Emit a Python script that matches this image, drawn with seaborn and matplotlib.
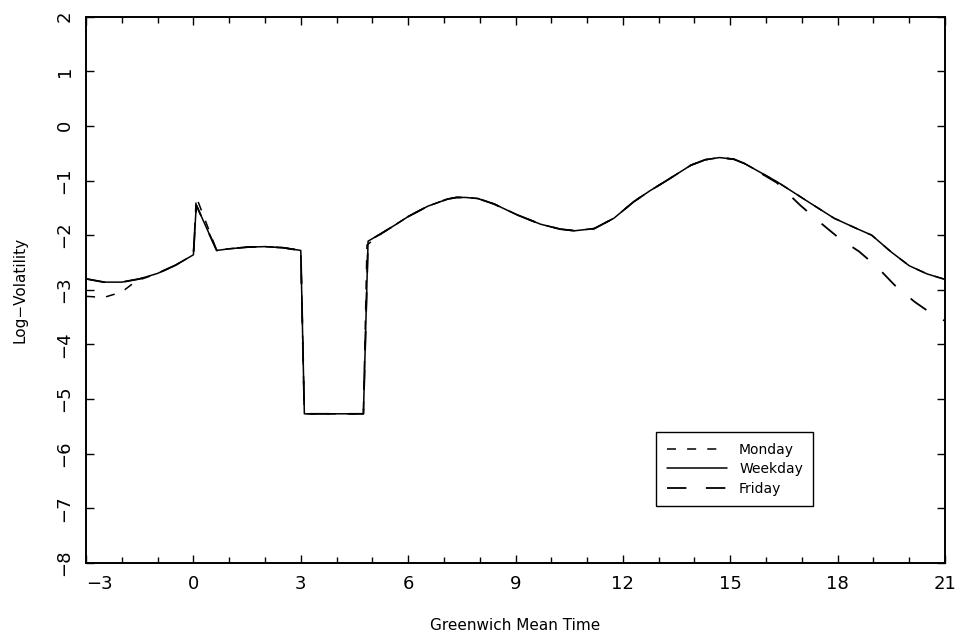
import numpy as np
import pandas as pd
import matplotlib
matplotlib.use("Agg")
import matplotlib.pyplot as plt
import seaborn as sns
from matplotlib.ticker import MultipleLocator

# ---- data ----
weekday_x = [-3.0, -2.5, -2.0, -1.5, -1.0, -0.5, 0.0, 0.08, 0.65, 1.0, 1.5, 2.0, 2.5, 3.0,
             3.1, 4.0, 4.75, 4.88, 5.25, 5.62, 6.0, 6.55, 7.1, 7.35, 7.6, 7.95, 8.4, 9.05, 9.7,
             10.25, 10.65, 11.2, 11.75, 12.3, 12.75, 13.2, 13.9, 14.3, 14.7, 15.1, 15.4, 16.3,
             17.25, 17.9, 18.5, 18.95, 19.5, 20.0, 20.5, 21.0]
weekday_y = [-2.80, -2.86, -2.86, -2.80, -2.70, -2.55, -2.36, -1.45, -2.28, -2.25, -2.22, -2.21, -2.23, -2.28,
             -5.27, -5.27, -5.27, -2.11, -1.97, -1.82, -1.66, -1.47, -1.34, -1.31, -1.31, -1.33, -1.43, -1.63, -1.80,
             -1.89, -1.92, -1.88, -1.69, -1.39, -1.19, -1.01, -0.72, -0.62, -0.58, -0.61, -0.69, -1.02,
             -1.42, -1.69, -1.87, -2.00, -2.31, -2.56, -2.71, -2.81]

monday_x = [-3.0, -2.5, -2.0, -1.6, -1.0, -0.5, 0.0, 0.08, 0.65, 1.0, 1.5, 2.0, 2.5, 3.0,
            3.1, 4.0, 4.75, 4.85, 5.25, 5.62, 6.0, 6.55, 7.1, 7.35, 7.6, 7.95, 8.4, 9.05, 9.7,
            10.25, 10.65, 11.2, 11.75, 12.3, 12.75, 13.2, 13.9, 14.3, 14.7, 15.1, 15.4, 16.3,
            17.25, 17.9, 18.5, 18.95, 19.5, 20.0, 20.5, 21.0]
monday_y = [-3.12, -3.14, -3.04, -2.84, -2.70, -2.55, -2.36, -1.30, -2.28, -2.25, -2.22, -2.21, -2.23, -2.28,
            -5.27, -5.27, -5.27, -2.18, -1.97, -1.82, -1.66, -1.47, -1.34, -1.31, -1.31, -1.33, -1.43, -1.63, -1.80,
            -1.89, -1.92, -1.88, -1.69, -1.39, -1.19, -1.01, -0.72, -0.62, -0.58, -0.61, -0.69, -1.02,
            -1.42, -1.69, -1.87, -2.00, -2.31, -2.56, -2.71, -2.81]

friday_x = [-3.0, -2.5, -2.0, -1.5, -1.0, -0.5, 0.0, 0.08, 0.65, 1.0, 1.5, 2.0, 2.5, 3.0,
            3.1, 4.0, 4.75, 4.88, 5.25, 5.62, 6.0, 6.55, 7.1, 7.35, 7.6, 7.95, 8.4, 9.05, 9.7,
            10.25, 10.65, 11.2, 11.75, 12.3, 12.75, 13.2, 13.9, 14.3, 14.7, 15.1, 15.4, 16.3,
            16.95, 17.55, 18.05, 18.6, 19.1, 19.6, 20.15, 20.7, 21.0]
friday_y = [-2.80, -2.86, -2.86, -2.80, -2.70, -2.55, -2.36, -1.45, -2.28, -2.25, -2.22, -2.21, -2.23, -2.28,
            -5.27, -5.27, -5.27, -2.11, -1.97, -1.82, -1.66, -1.47, -1.34, -1.31, -1.31, -1.33, -1.43, -1.63, -1.80,
            -1.89, -1.92, -1.88, -1.69, -1.39, -1.19, -1.01, -0.72, -0.62, -0.58, -0.61, -0.69, -1.04,
            -1.45, -1.79, -2.06, -2.30, -2.58, -2.92, -3.22, -3.47, -3.57]

x_ticks = [-3, 0, 3, 6, 9, 12, 15, 18, 21]
y_ticks = [2, 1, 0, -1, -2, -3, -4, -5, -6, -7, -8]

sns.set_style("ticks")
plt.rcParams["font.family"] = ["DejaVu Sans"]
plt.rcParams["lines.scale_dashes"] = False
plt.rcParams["text.color"] = "black"
plt.rcParams["axes.labelcolor"] = "black"
plt.rcParams["xtick.color"] = "black"
plt.rcParams["ytick.color"] = "black"

fig = plt.figure(figsize=(9.56, 6.38), dpi=100)
ax = fig.add_axes([0.090, 0.1176, 0.8985, 0.8564])

lw = 1.1
sns.lineplot(x=monday_x, y=monday_y, ax=ax, color="black", lw=lw, sort=False,
             label="Monday", linestyle=(0, (6.5, 8)))
sns.lineplot(x=weekday_x, y=weekday_y, ax=ax, color="black", lw=lw, sort=False,
             label="Weekday", linestyle="-")
sns.lineplot(x=friday_x, y=friday_y, ax=ax, color="black", lw=1.3, sort=False,
             label="Friday", linestyle=(0, (14, 14)))

ax.set_xlim(-3, 21)
ax.set_ylim(-8, 2)
ax.set_xticks(x_ticks)
ax.set_xticklabels([str(v).replace("-", "\u2212") for v in x_ticks], fontsize=13)
ax.xaxis.set_minor_locator(MultipleLocator(1))
ax.set_yticks(y_ticks)
ax.set_yticklabels([str(v).replace("-", "\u2212") for v in y_ticks], fontsize=13,
                   rotation=90, va="center")
ax.tick_params(axis="both", which="major", direction="in", length=6, width=1.0,
               top=True, right=True, color="black", labelcolor="black")
ax.tick_params(axis="x", which="minor", direction="in", length=4, width=1.0,
               top=True, bottom=True, color="black")
ax.tick_params(axis="x", which="major", pad=9)
ax.tick_params(axis="y", which="major", pad=9)
ax.get_xticklabels()[0].set_horizontalalignment("left")

for s in ax.spines.values():
    s.set_visible(True)
    s.set_color("black")
    s.set_linewidth(1.4)

ax.set_xlabel("Greenwich Mean Time", fontsize=11, labelpad=18, color="black")
ax.set_ylabel("Log\u2212Volatility", fontsize=11, labelpad=20, color="black")

leg = ax.legend(loc="lower left", bbox_to_anchor=(0.656, 0.091), fontsize=10,
                frameon=True, fancybox=False, edgecolor="black", framealpha=1,
                handlelength=4.3, handletextpad=0.9, borderpad=0.75,
                labelspacing=0.4)
leg.get_frame().set_linewidth(1.0)
for t in leg.get_texts():
    t.set_color("black")

fig.savefig("out.png", dpi=100, facecolor="white")
